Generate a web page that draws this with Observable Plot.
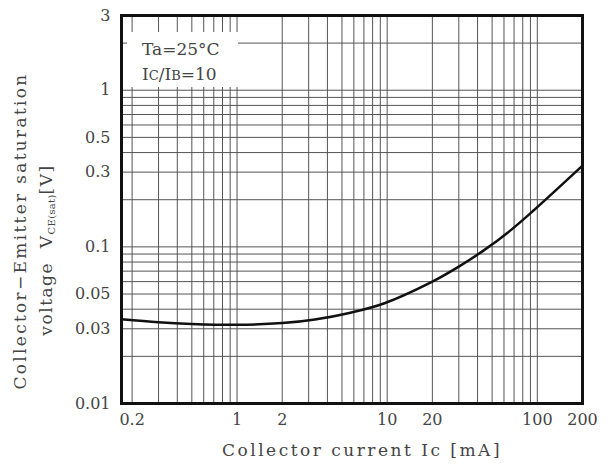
<!DOCTYPE html>
<html>
<head>
<meta charset="utf-8">
<script src="https://cdn.jsdelivr.net/npm/d3@7"></script>
<script src="https://cdn.jsdelivr.net/npm/@observablehq/plot@0.6"></script>
<style>
  html, body { margin: 0; padding: 0; background: #fff; }
  #chart { width: 609px; height: 472px; }
</style>
</head>
<body>
<div id="chart"></div>
<script>
// Collector current Ic [mA] and saturation voltage VCE(sat) [V]
const ic  = [0.17, 0.3, 0.5, 1, 2, 3.3, 5.7, 9.5, 20, 30, 44, 66, 94, 200];
const vce = [0.0345, 0.0330, 0.0322, 0.0318, 0.0326, 0.0344, 0.038, 0.0435, 0.060, 0.0748, 0.095, 0.127, 0.17, 0.33];

const xTicks = [0.2, 0.5, 1, 2, 5, 10, 20, 50, 100, 200];
const yTicks = [0.01, 0.03, 0.05, 0.1, 0.3, 0.5, 1, 3];
const xGrid = [0.2, 0.3, 0.4, 0.5, 0.6, 0.7, 0.8, 0.9, 1, 2, 3, 4, 5, 6, 7, 8, 9, 10, 20, 30, 40, 50, 60, 70, 80, 90, 100];
const yGrid = [0.02, 0.03, 0.04, 0.05, 0.06, 0.07, 0.08, 0.09, 0.1, 0.2, 0.3, 0.4, 0.5, 0.6, 0.7, 0.8, 0.9, 1, 2];

const data = ic.map((d, i) => ({ic: d, vce: vce[i]}));
const font = "DejaVu Serif";

const chart = Plot.plot({
  width: 609,
  height: 472,
  marginLeft: 121,
  marginTop: 15,
  marginRight: 27,
  marginBottom: 69,
  style: {fontFamily: font, fontSize: "16px", color: "#444", background: "#fff"},
  x: {type: "log", domain: [0.17, 200]},
  y: {type: "log", domain: [0.01, 3]},
  marks: [
    Plot.ruleX(xGrid, {stroke: "#555", strokeWidth: 1}),
    Plot.ruleY(yGrid, {stroke: "#555", strokeWidth: 1}),
    Plot.axisX(xTicks, {tickSize: 0, tickPadding: 10, tickFormat: d => String(d), label: null, fill: "#444"}),
    Plot.axisY(yTicks, {tickSize: 0, tickPadding: 11, tickFormat: d => String(d), label: null, fill: "#444"}),
    Plot.line(data, {x: "ic", y: "vce", curve: "catmull-rom", stroke: "#111", strokeWidth: 2.5}),
    Plot.frame({stroke: "#111", strokeWidth: 3})
  ]
});

document.getElementById("chart").appendChild(chart);

const svg = d3.select(chart);

// legend box
const lg = svg.append("g").attr("text-anchor", "start");
lg.append("rect").attr("x", 127).attr("y", 32).attr("width", 111).attr("height", 55).attr("fill", "#fff");
lg.append("text").attr("x", 142).attr("y", 55)
  .attr("font-family", font).attr("font-size", 17).attr("fill", "#444").text("Ta=25°C");
const t2 = lg.append("text").attr("x", 142).attr("y", 80)
  .attr("font-family", font).attr("font-size", 17).attr("fill", "#444");
t2.append("tspan").text("I");
t2.append("tspan").attr("font-size", 13).text("C");
t2.append("tspan").text("/I");
t2.append("tspan").attr("font-size", 13).text("B");
t2.append("tspan").text("=10");

// x title
svg.append("text").attr("x", 362).attr("y", 456).attr("text-anchor", "middle")
  .attr("font-family", font).attr("font-size", 17).attr("fill", "#444")
  .attr("letter-spacing", "2.5px")
  .text("Collector current Ic [mA]");

// y title
svg.append("text").attr("transform", "translate(26,231) rotate(-90)").attr("text-anchor", "middle")
  .attr("font-family", font).attr("font-size", 17).attr("fill", "#444")
  .attr("letter-spacing", "2.3px")
  .text("Collector−Emitter saturation");
const yt2 = svg.append("text").attr("transform", "translate(52,250) rotate(-90)").attr("text-anchor", "middle")
  .attr("font-family", font).attr("font-size", 17).attr("fill", "#444")
  .attr("letter-spacing", "1.5px");
yt2.append("tspan").text("voltage  V");
yt2.append("tspan").attr("font-size", 10).attr("dy", 3).attr("letter-spacing", "0.3px").text("CE(sat)");
yt2.append("tspan").attr("dy", -3).text("[V]");
</script>
</body>
</html>
